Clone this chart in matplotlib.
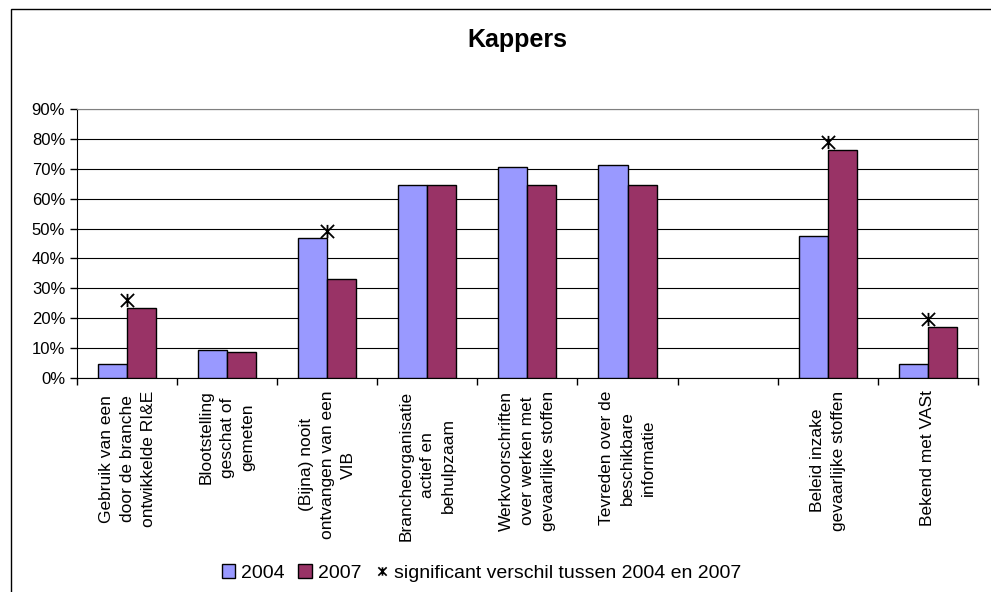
import matplotlib
matplotlib.use("Agg")
from matplotlib import pyplot as plt
from matplotlib.lines import Line2D
from matplotlib.patches import Patch, Rectangle
from matplotlib.path import Path
import numpy as np

plt.rcParams['font.family'] = ['Liberation Sans', 'DejaVu Sans']

categories = ["Gebruik van een\ndoor de branche\nontwikkelde RI&E",
              "Blootstelling\ngeschat of\ngemeten",
              "(Bijna) nooit\nontvangen van een\nVIB",
              "Brancheorganisatie\nactief en\nbehulpzaam",
              "Werkvoorschriften\nover werken met\ngevaarlijke stoffen",
              "Tevreden over de\nbeschikbare\ninformatie",
              "",
              "Beleid inzake\ngevaarlijke stoffen",
              "Bekend met VASt"]
v2004 = [4.7, 9.4, 47.0, 64.7, 70.6, 71.4, np.nan, 47.5, 4.7]
v2007 = [23.5, 8.8, 33.0, 64.7, 64.7, 64.7, np.nan, 76.3, 17.1]
# significant verschil markers
sig = [26.2, np.nan, 49.3, np.nan, np.nan, np.nan, np.nan, 78.8, 19.8]

c2004 = "#9999FF"
c2007 = "#993366"

# X with a vertical stroke, like the excel marker
star = Path([(-1, -1), (1, 1), (-1, 1), (1, -1), (0, -1), (0, 1)],
            [Path.MOVETO, Path.LINETO, Path.MOVETO, Path.LINETO, Path.MOVETO, Path.LINETO])

fig = plt.figure(figsize=(9.91, 5.92), dpi=100)
ax = fig.add_axes([0.0777, 0.3615, 0.909, 0.4544])

x = np.arange(len(categories))
w = 0.29
ax.bar(x - w / 2, v2004, w, color=c2004, edgecolor="black", linewidth=1, zorder=3)
ax.bar(x + w / 2, v2007, w, color=c2007, edgecolor="black", linewidth=1, zorder=3)
ax.plot(x, sig, linestyle="none", marker=star, markersize=9.5, color="black",
        markeredgewidth=1.3, zorder=4)

ax.set_xlim(-0.5, len(categories) - 0.5)
ax.set_ylim(0, 90)
ax.set_yticks(np.arange(0, 91, 10))
ax.set_yticklabels([f"{v}%" for v in range(0, 91, 10)], fontsize=12)
ax.yaxis.grid(True, color="black", linewidth=0.8, zorder=0)
ax.set_xticks(np.arange(-0.5, len(categories), 1))
ax.set_xticklabels([])
ax.set_xticks(x, minor=True)
ax.set_xticklabels(categories, minor=True, rotation=90, fontsize=12.5,
                   va="top", ha="center", multialignment="center", linespacing=1.5)
ax.tick_params(axis="x", which="minor", length=0, pad=9)
ax.tick_params(axis="both", which="major", length=5, width=1, direction="out")
for s in ["top", "right"]:
    ax.spines[s].set_color("#808080")
ax.spines["left"].set_color("black")
ax.spines["bottom"].set_color("black")

fig.text(0.522, 0.932, "Kappers", ha="center", va="center", fontsize=18, fontweight="bold")

handles = [Patch(facecolor=c2004, edgecolor="black"),
           Patch(facecolor=c2007, edgecolor="black"),
           Line2D([], [], linestyle="none", marker=star, color="black", markersize=6,
                  markeredgewidth=1.2)]
fig.legend(handles, ["2004", "2007", "significant verschil tussen 2004 en 2007"],
           loc="center", bbox_to_anchor=(0.486, 0.032), ncol=3, frameon=False,
           fontsize=14, handlelength=0.7, handleheight=0.7, handletextpad=0.3,
           columnspacing=0.7)

fig.patches.append(Rectangle((11 / 991, -0.1), 1.2, 1.1 - 9 / 592, transform=fig.transFigure,
                             fill=False, edgecolor="black", linewidth=1, zorder=0))

fig.savefig("out.png", dpi=100)
